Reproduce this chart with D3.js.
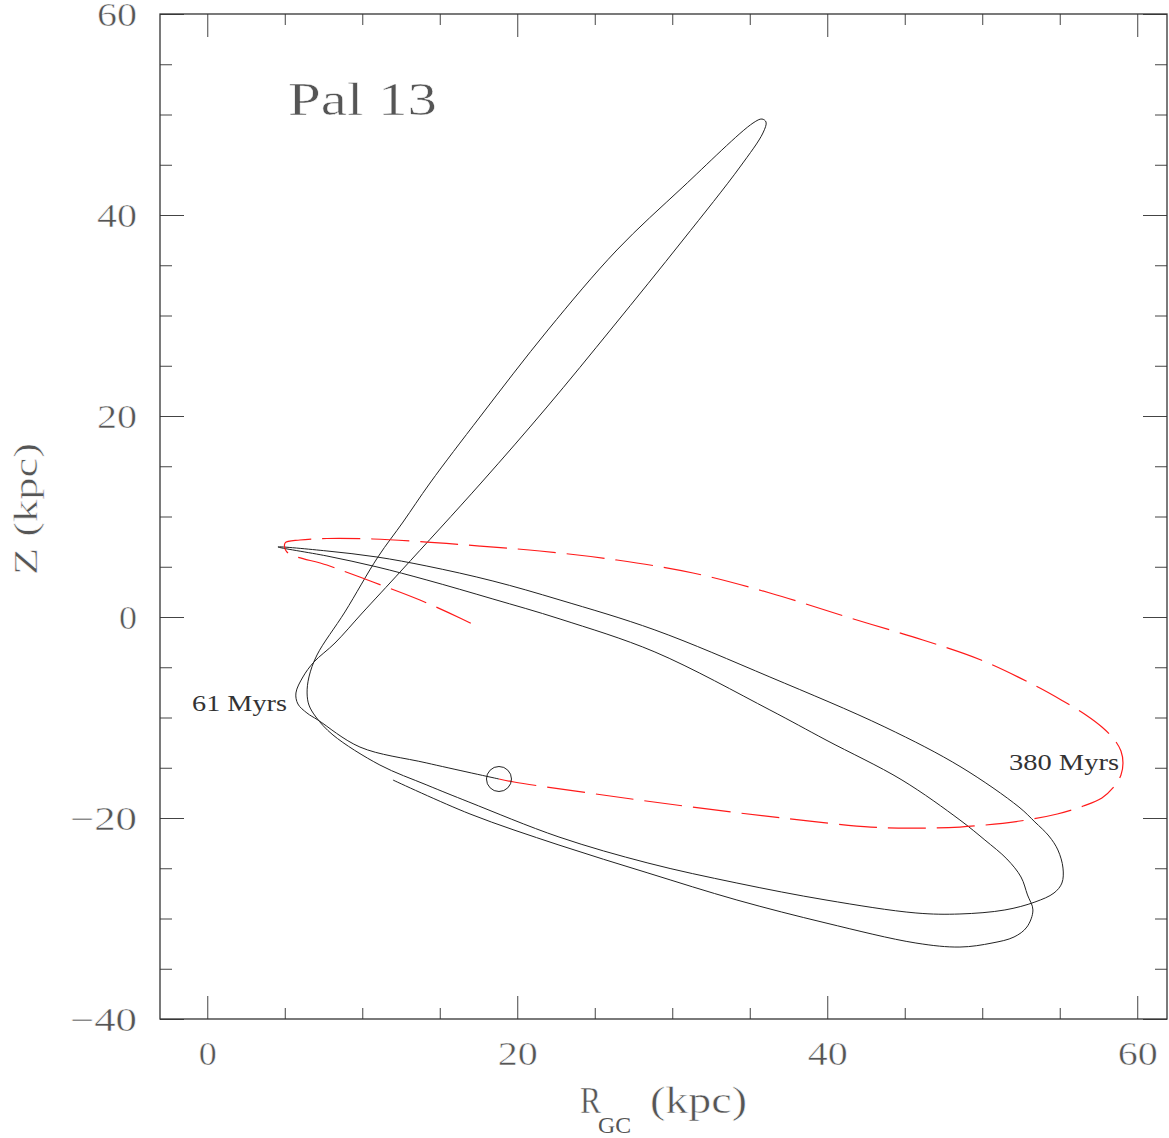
<!DOCTYPE html>
<html>
<head>
<meta charset="utf-8">
<script src="https://cdn.jsdelivr.net/npm/d3@7"></script>
<style>
  body { margin: 0; background: #fff; }
  text { font-family: "Liberation Serif", serif; }
</style>
</head>
<body>
<div id="app"></div>
<script>
const container = document.querySelector('#app');

// Declare the chart dimensions and margins.
const width = 1169;
const height = 1138;
const marginTop = 14;
const marginRight = 2;
const marginBottom = 119;
const marginLeft = 160;

// past orbit (R_GC, Z in kpc), integrated up to the present position
const pastR = [11.98, 16.95, 22.69, 28.43, 34.17, 39.92, 45.72, 48.56, 50.63, 52.05,
  52.88, 53.27, 52.92, 52.50, 51.59, 50.17, 48.56, 44.82, 39.92, 36.30,
  28.88, 22.76, 18.43, 14.17, 10.95, 7.72, 4.56, 7.72, 10.95, 14.17,
  18.43, 22.76, 28.88, 36.30, 43.72, 48.63, 52.37, 53.40, 54.30, 54.88,
  55.21, 55.14, 54.63, 53.40, 51.46, 48.56, 45.72, 39.92, 34.17, 28.43,
  22.69, 16.88, 14.17, 11.14, 8.11, 7.01, 6.56, 6.44, 6.56, 7.08,
  8.88, 11.01, 12.63, 14.37, 17.59, 21.98, 26.43, 30.69, 35.21, 35.79,
  36.05, 35.85, 34.37, 30.69, 26.17, 21.92, 17.66, 12.56, 10.00, 8.24,
  6.88, 6.17, 5.72, 5.85, 6.43, 7.14, 9.85, 14.17, 18.82];
const pastZ = [-16.22, -19.60, -22.69, -25.47, -28.16, -30.45, -32.44, -32.84, -32.44, -31.84,
  -30.85, -29.15, -27.66, -25.87, -24.08, -22.19, -20.20, -16.22, -12.24, -9.25,
  -3.48, -0.20, 1.79, 3.68, 4.98, 6.07, 6.97, 6.57, 5.97, 5.07,
  3.58, 1.69, -1.29, -5.97, -10.95, -14.93, -18.91, -20.40, -21.79, -23.18,
  -24.98, -26.47, -27.46, -28.36, -29.15, -29.55, -29.45, -28.16, -26.47, -24.48,
  -21.89, -18.41, -16.72, -14.73, -11.74, -9.95, -8.76, -7.56, -5.97, -3.78,
  0.50, 5.97, 9.45, 13.33, 19.90, 28.56, 36.52, 42.79, 49.15, 49.55,
  49.25, 48.16, 44.78, 37.51, 28.86, 20.90, 13.33, 4.68, 0.40, -2.59,
  -4.48, -5.97, -7.56, -8.66, -9.55, -10.25, -12.94, -14.53, -16.12];

// future orbit (dashed red), starting at the present position
const futureR = [18.82, 19.79, 25.53, 31.27, 37.08, 42.82, 45.72, 48.56, 52.43, 54.84,
  56.52, 57.72, 58.43, 58.95, 59.08, 58.95, 58.49, 57.72, 56.69, 55.21,
  53.59, 49.92, 46.17, 41.27, 36.30, 31.34, 26.43, 21.46, 17.59, 14.17,
  10.69, 7.72, 5.98, 5.02, 5.14, 7.72, 10.69, 13.72, 16.30, 17.59];
const futureZ = [-16.12, -16.42, -17.71, -18.91, -20.00, -20.90, -21.00, -20.90, -20.30, -19.60,
  -18.81, -18.01, -17.01, -15.72, -14.53, -13.33, -12.14, -10.95, -9.75, -8.36,
  -6.97, -4.28, -2.29, 0.00, 2.39, 4.38, 5.67, 6.57, 7.06, 7.46,
  7.76, 7.81, 7.66, 7.36, 6.47, 5.17, 3.48, 1.69, -0.10, -1.09];

// present position of the cluster
const presentR = [18.82];
const presentZ = [-16.12];

const xMajor = [0, 20, 40, 60];
const yMajor = [-40, -20, 0, 20, 40, 60];
const xMinor = d3.range(0, 61, 5).filter(d => d % 20 !== 0);
const yMinor = d3.range(-40, 61, 5).filter(d => d % 20 !== 0);

// scales
const x = d3.scaleLinear()
    .domain([-3.05, 61.92])
    .range([marginLeft, width - marginRight]);

const y = d3.scaleLinear()
    .domain([-40, 60])
    .range([height - marginBottom, marginTop]);

const svg = d3.create("svg")
    .attr("width", width)
    .attr("height", height);

const fmt = d => d < 0 ? "\u2212" + Math.abs(d) : String(d);
const labelLen = d => (d < 0 ? 27 : 0) + (Math.abs(d) === 0 ? 18 : 40);

// thin, grey lettering (white outline eats into the glyphs)
const thin = sel => sel.attr("fill", "#555").attr("stroke", "#fff").attr("stroke-width", 0.5);

// ticks on all four sides, pointing inward
function ticks(axis, transform, values, size, labels) {
  const g = svg.append("g")
      .attr("transform", transform)
      .call(axis.tickValues(values).tickSize(-size).tickPadding(23)
        .tickFormat(labels ? fmt : ""));
  g.select(".domain").remove();
  g.selectAll(".tick line").attr("stroke", "#444").attr("stroke-width", 1);
  g.attr("font-family", "Liberation Serif").attr("font-size", 33);
  g.selectAll("text")
    .attr("textLength", d => labelLen(d))
    .attr("lengthAdjust", "spacingAndGlyphs")
    .call(thin);
  return g;
}

const atBottom = `translate(0,${height - marginBottom})`;
const atTop = `translate(0,${marginTop})`;
const atLeft = `translate(${marginLeft},0)`;
const atRight = `translate(${width - marginRight},0)`;

const gx = ticks(d3.axisBottom(x), atBottom, xMajor, 23, true);
gx.selectAll("text").attr("y", 46).attr("dy", 0);
ticks(d3.axisBottom(x), atBottom, xMinor, 11, false);
ticks(d3.axisTop(x), atTop, xMajor, 23, false);
ticks(d3.axisTop(x), atTop, xMinor, 11, false);
const gy = ticks(d3.axisLeft(y), atLeft, yMajor, 24, true);
gy.selectAll("text").attr("dy", "0.34em");
ticks(d3.axisLeft(y), atLeft, yMinor, 12, false);
ticks(d3.axisRight(y), atRight, yMajor, 24, false);
ticks(d3.axisRight(y), atRight, yMinor, 12, false);

// frame
svg.append("rect")
    .attr("x", marginLeft)
    .attr("y", marginTop)
    .attr("width", width - marginRight - marginLeft)
    .attr("height", height - marginBottom - marginTop)
    .attr("fill", "none")
    .attr("stroke", "#333")
    .attr("stroke-width", 1.3);

// orbits
const line = d3.line()
    .x(d => x(d[0]))
    .y(d => y(d[1]))
    .curve(d3.curveCatmullRom.alpha(0.5));

svg.append("path")
    .datum(d3.zip(pastR, pastZ))
    .attr("fill", "none")
    .attr("stroke", "#222")
    .attr("stroke-width", 1)
    .attr("d", line);

svg.append("path")
    .datum(d3.zip(futureR, futureZ))
    .attr("fill", "none")
    .attr("stroke", "#ff1a1a")
    .attr("stroke-width", 1.2)
    .attr("stroke-dasharray", "38 11")
    .attr("d", line);

svg.selectAll("circle.now")
    .data(d3.zip(presentR, presentZ))
    .join("circle")
    .attr("cx", d => x(d[0]))
    .attr("cy", d => y(d[1]))
    .attr("r", 12.5)
    .attr("fill", "none")
    .attr("stroke", "#222")
    .attr("stroke-width", 1);

// labels
svg.append("text")
    .attr("x", 288).attr("y", 115)
    .attr("font-size", 46)
    .attr("textLength", 149).attr("lengthAdjust", "spacingAndGlyphs")
    .call(thin)
    .text("Pal 13");

svg.append("text")
    .attr("x", 192).attr("y", 711)
    .attr("font-size", 23).attr("fill", "#333")
    .attr("textLength", 95).attr("lengthAdjust", "spacingAndGlyphs")
    .text("61 Myrs");

svg.append("text")
    .attr("x", 1009).attr("y", 770)
    .attr("font-size", 24).attr("fill", "#333")
    .attr("textLength", 110).attr("lengthAdjust", "spacingAndGlyphs")
    .text("380 Myrs");

// x axis title R_GC (kpc)
svg.append("text")
    .attr("x", 580).attr("y", 1113)
    .attr("font-size", 37)
    .attr("textLength", 21).attr("lengthAdjust", "spacingAndGlyphs")
    .call(thin)
    .text("R");
svg.append("text")
    .attr("x", 598).attr("y", 1133)
    .attr("font-size", 24).attr("fill", "#555")
    .attr("textLength", 33).attr("lengthAdjust", "spacingAndGlyphs")
    .text("GC");
svg.append("text")
    .attr("x", 650).attr("y", 1113)
    .attr("font-size", 37)
    .attr("textLength", 97).attr("lengthAdjust", "spacingAndGlyphs")
    .call(thin)
    .text("(kpc)");

// y axis title
svg.append("text")
    .attr("transform", "translate(37,509) rotate(-90)")
    .attr("text-anchor", "middle")
    .attr("font-size", 34)
    .attr("textLength", 132).attr("lengthAdjust", "spacingAndGlyphs")
    .call(thin)
    .text("Z (kpc)");

container.append(svg.node());
</script>
</body>
</html>
